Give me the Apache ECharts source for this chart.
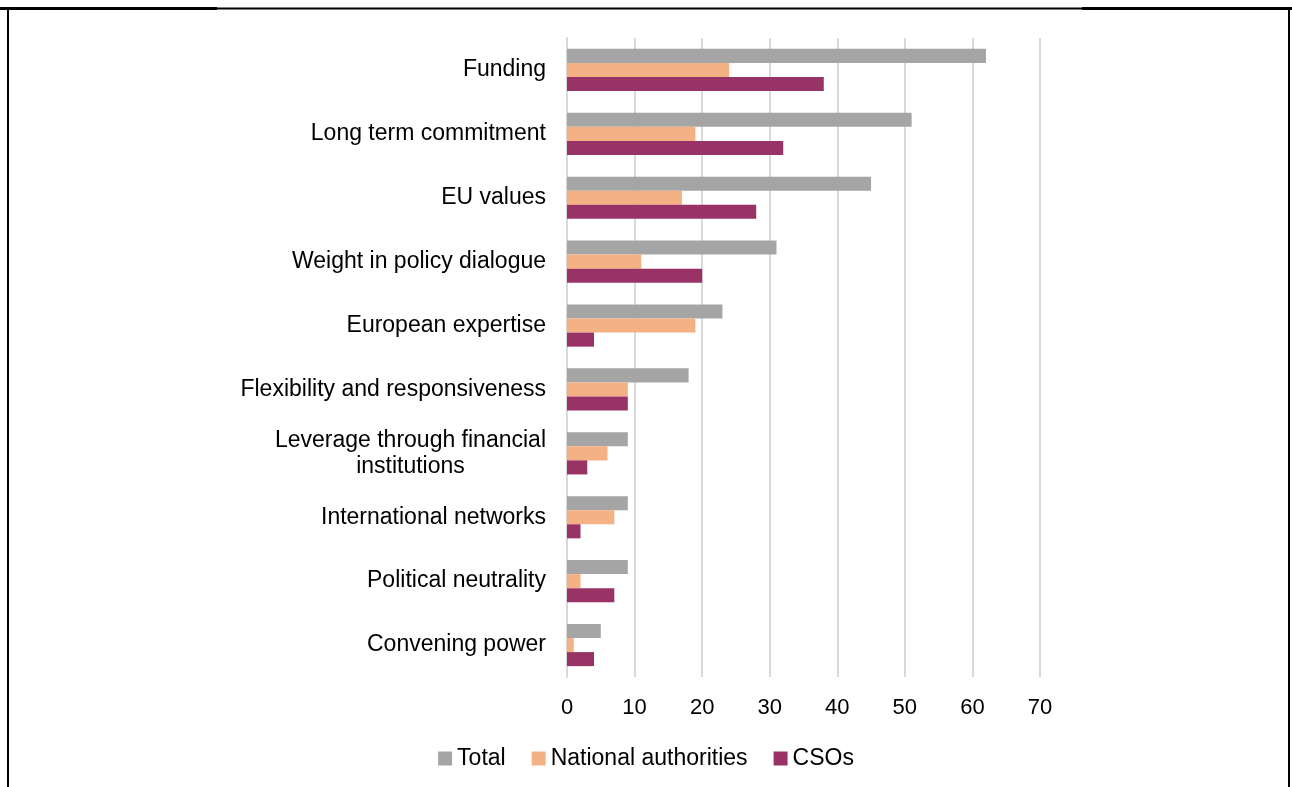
<!DOCTYPE html>
<html>
<head>
<meta charset="utf-8">
<script src="https://cdn.jsdelivr.net/npm/echarts@6/dist/echarts.min.js"></script>
<style>
  html, body { margin: 0; padding: 0; background: #fff; }
  #main { width: 1292px; height: 787px; }
</style>
</head>
<body>
<div id="main"></div>
<script>
// categories top to bottom
const categories = [
  'Funding',
  'Long term commitment',
  'EU values',
  'Weight in policy dialogue',
  'European expertise',
  'Flexibility and responsiveness',
  'Leverage through financial\ninstitutions',
  'International networks',
  'Political neutrality',
  'Convening power'
]
const total = [62, 51, 45, 31, 23, 18, 9, 9, 9, 5]
const nationalAuthorities = [24, 19, 17, 11, 19, 9, 6, 7, 2, 1]
const csos = [38, 32, 28, 20, 4, 9, 3, 2, 7, 4]

const font = 'Liberation Sans, Arial, sans-serif'
const chart = echarts.init(document.getElementById('main'))

const barSeries = (name, data, color) => ({
  name,
  type: 'bar',
  data,
  barGap: 0,
  barCategoryGap: '34%',
  itemStyle: { color },
  emphasis: { disabled: true }
})

chart.setOption({
  animation: false,
  backgroundColor: '#fff',
  textStyle: { fontFamily: font },
  grid: { left: 567, right: 252, top: 38, bottom: 110 },
  legend: {
    left: 'center',
    top: 742,
    itemWidth: 14,
    itemHeight: 14,
    itemGap: 26,
    icon: 'rect',
    textStyle: { fontSize: 23, color: '#000', fontFamily: font },
    data: ['Total', 'National authorities', 'CSOs']
  },
  xAxis: {
    type: 'value',
    min: 0,
    max: 70,
    interval: 10,
    axisLine: { show: false },
    axisTick: { show: false },
    axisLabel: { fontSize: 22, color: '#000', margin: 20, fontFamily: font },
    splitLine: { lineStyle: { color: '#d9d9d9', width: 2 } }
  },
  yAxis: {
    type: 'category',
    inverse: true,
    data: categories,
    axisLine: { show: true, lineStyle: { color: '#d9d9d9', width: 2 } },
    axisTick: { show: false },
    axisLabel: {
      fontSize: 23,
      color: '#000',
      margin: 21,
      fontFamily: font,
      formatter: v => v.split('\n').map(s => '{c|' + s + '}').join('\n'),
      rich: { c: { align: 'center', fontSize: 23, color: '#000', fontFamily: font, lineHeight: 26 } }
    }
  },
  series: [
    barSeries('Total', total, '#a5a5a5'),
    barSeries('National authorities', nationalAuthorities, '#f4b183'),
    barSeries('CSOs', csos, '#993366')
  ],
  graphic: [
    {
      type: 'polyline',
      shape: { points: [[8, 800], [8, 8.5], [1289, 8.5], [1289, 800]] },
      style: { stroke: '#000', lineWidth: 2, fill: null }
    },
    {
      type: 'line',
      shape: { x1: 0, y1: 8.5, x2: 217, y2: 8.5 },
      style: { stroke: '#000', lineWidth: 3 }
    },
    {
      type: 'line',
      shape: { x1: 1082, y1: 8.5, x2: 1292, y2: 8.5 },
      style: { stroke: '#000', lineWidth: 3 }
    }
  ]
})
</script>
</body>
</html>
